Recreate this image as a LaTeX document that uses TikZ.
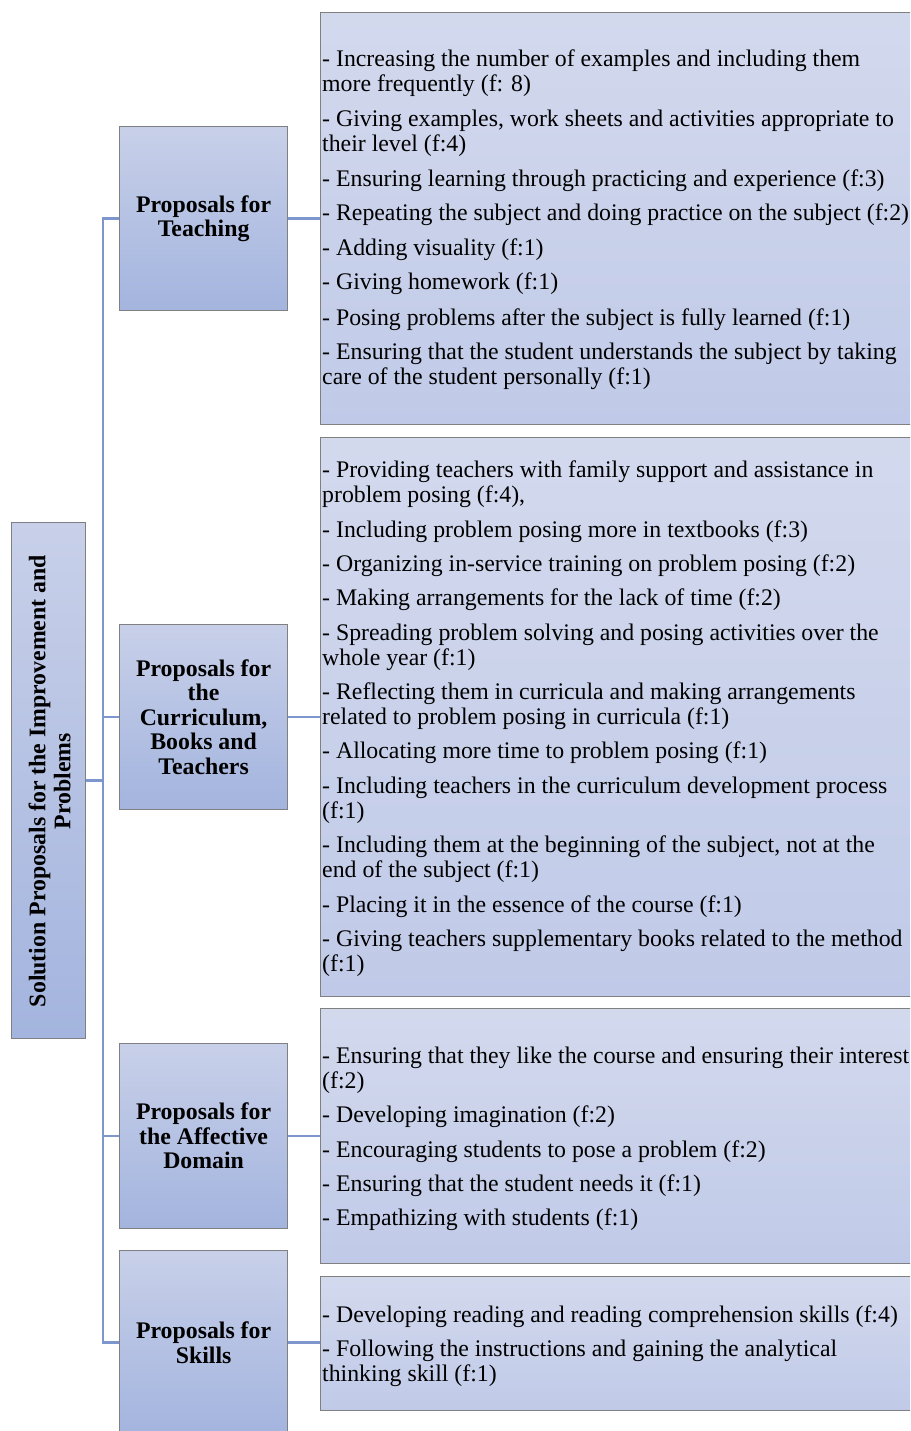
\documentclass[tikz,border=0pt]{standalone}
\usepackage{fontspec}
\setmainfont{Liberation Serif}
\definecolor{conn}{RGB}{126,150,206}
\definecolor{bord}{RGB}{128,128,128}
\definecolor{ltop}{RGB}{200,208,233}
\definecolor{lbot}{RGB}{163,180,222}
\definecolor{rtop}{RGB}{211,217,237}
\definecolor{rbot}{RGB}{192,202,232}
\newcommand\txtline[2]{\node[lineitem] at (322,#1) {#2};}
\tikzset{
  leftbox/.style={draw=bord, line width=1.2pt, top color=ltop, bottom color=lbot,
    inner sep=0pt, minimum width=168pt, anchor=north west, align=center,
    font=\bfseries\fontsize{23.8}{24.5}\selectfont},
  rightbox/.style={draw=bord, line width=1.2pt, top color=rtop, bottom color=rbot,
    inner sep=0pt, minimum width=620pt, anchor=north west},
  lineitem/.style={anchor=base west, inner sep=0pt, font=\fontsize{23.8}{25}\selectfont},
  connline/.style={draw=conn, line width=2.4pt}
}
\begin{document}
\begin{tikzpicture}[x=1pt,y=-1pt]
\useasboundingbox (0,0) rectangle (910,1431);
\clip (0,0) rectangle (910,1431);
% right boxes
\node[rightbox, minimum height=412pt] (b1) at (320,12) {};
\node[rightbox, minimum height=559pt] (b2) at (320,437) {};
\node[rightbox, minimum height=255pt] (b3) at (320,1008) {};
\node[rightbox, minimum height=134pt] (b4) at (320,1276) {};
% left boxes
\node[leftbox, minimum width=74pt, minimum height=516pt] (root) at (11,522) {};
\node[rotate=90, align=center, font=\bfseries\fontsize{23.8}{25}\selectfont] (roottext) at (49.5,781) {Solution Proposals for the Improvement and\\Problems};
\node[leftbox, minimum height=184pt] (teach) at (119,126) {Proposals for\\Teaching};
\node[leftbox, minimum height=185pt] (cur) at (119,624) {Proposals for\\the\\Curriculum,\\Books and\\Teachers};
\node[leftbox, minimum height=185pt] (aff) at (119,1043) {Proposals for\\the Affective\\Domain};
\node[leftbox, minimum height=184pt] (skill) at (119,1250) {Proposals for\\Skills};
% connectors
\coordinate (trunk) at (103,0);
\draw[connline] (teach.west) -| (trunk |- skill.west) -- (skill.west);
\draw[connline] (root.east) -- (trunk |- root.east);
\draw[connline] (trunk |- cur.west) -- (cur.west);
\draw[connline] (trunk |- aff.west) -- (aff.west);
\draw[connline] (teach.east) -- (b1.west |- teach.east);
\draw[connline] (cur.east) -- (b2.west |- cur.east);
\draw[connline] (aff.east) -- (b3.west |- aff.east);
\draw[connline] (skill.east) -- (b4.west |- skill.east);
% box 1 text
\txtline{67}{- Increasing the number of examples and including them}
\txtline{92}{more frequently (f: 8)}
\txtline{127}{- Giving examples, work sheets and activities appropriate to}
\txtline{152}{their level (f:4)}
\txtline{187}{- Ensuring learning through practicing and experience (f:3)}
\txtline{221}{- Repeating the subject and doing practice on the subject (f:2)}
\txtline{255}{- Adding visuality (f:1)}
\txtline{289}{- Giving homework (f:1)}
\txtline{325}{- Posing problems after the subject is fully learned (f:1)}
\txtline{359}{- Ensuring that the student understands the subject by taking}
\txtline{384}{care of the student personally (f:1)}
% box 2 text
\txtline{477}{- Providing teachers with family support and assistance in}
\txtline{502}{problem posing (f:4),}
\txtline{537}{- Including problem posing more in textbooks (f:3)}
\txtline{571}{- Organizing in-service training on problem posing (f:2)}
\txtline{605}{- Making arrangements for the lack of time (f:2)}
\txtline{640}{- Spreading problem solving and posing activities over the}
\txtline{665}{whole year (f:1)}
\txtline{699}{- Reflecting them in curricula and making arrangements}
\txtline{724}{related to problem posing in curricula (f:1)}
\txtline{758}{- Allocating more time to problem posing (f:1)}
\txtline{793}{- Including teachers in the curriculum development process}
\txtline{818}{(f:1)}
\txtline{852}{- Including them at the beginning of the subject, not at the}
\txtline{877}{end of the subject (f:1)}
\txtline{912}{- Placing it in the essence of the course (f:1)}
\txtline{946}{- Giving teachers supplementary books related to the method}
\txtline{971}{(f:1)}
% box 3 text
\txtline{1063}{- Ensuring that they like the course and ensuring their interest}
\txtline{1088}{(f:2)}
\txtline{1122}{- Developing imagination (f:2)}
\txtline{1157}{- Encouraging students to pose a problem (f:2)}
\txtline{1191}{- Ensuring that the student needs it (f:1)}
\txtline{1225}{- Empathizing with students (f:1)}
% box 4 text
\txtline{1322}{- Developing reading and reading comprehension skills (f:4)}
\txtline{1356}{- Following the instructions and gaining the analytical}
\txtline{1381}{thinking skill (f:1)}
\end{tikzpicture}
\end{document}
